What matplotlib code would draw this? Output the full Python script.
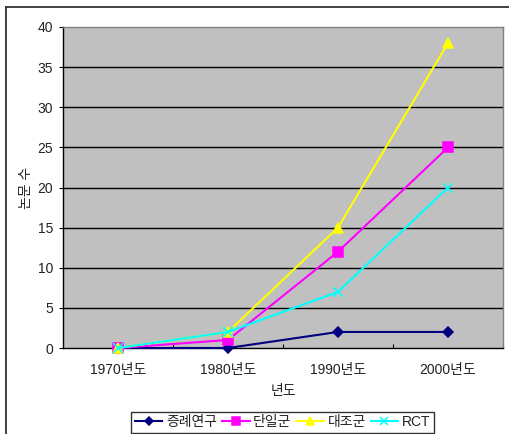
import matplotlib
matplotlib.use("Agg")
import matplotlib.pyplot as plt
from matplotlib.lines import Line2D

plt.rcParams['font.family'] = ['Liberation Sans', 'Noto Sans CJK KR']

categories = ['1970년도', '1980년도', '1990년도', '2000년도']
case_study = [0, 0, 2, 2]        # 증례연구
single_group = [0, 1, 12, 25]    # 단일군
control_group = [0, 2, 15, 38]   # 대조군
rct = [0, 2, 7, 20]              # RCT
y_ticks = [0, 5, 10, 15, 20, 25, 30, 35, 40]

FS = 10
TXT = '#222222'

fig = plt.figure(figsize=(5.09, 4.34), dpi=100)
fig.patch.set_facecolor('white')

ax = fig.add_axes([63/509, 1-348/434, 440/509, 321/434])
ax.set_facecolor('#C0C0C0')

x = list(range(len(categories)))
series = [
    (case_study, '증례연구', '#000080', 'D', 5.5),
    (single_group, '단일군', '#FF00FF', 's', 6.5),
    (control_group, '대조군', '#FFFF00', '^', 7),
    (rct, 'RCT', '#00FFFF', 'x', 6.5),
]
for vals, name, color, mk, ms in series:
    ax.plot(x, vals, color=color, lw=1.5, marker=mk, ms=ms,
            mec=color, mfc=color, mew=1.1, label=name, clip_on=False, zorder=3)

ax.set_xlim(-0.5, 3.5)
ax.set_ylim(0, 40)
ax.set_yticks(y_ticks)
for yv in y_ticks[1:-1]:
    ax.axhline(yv, color='black', lw=1.0, zorder=1)

# category boundaries carry inward ticks; labels sit at category centers
ax.set_xticks([0.5, 1.5, 2.5, 3.5])
ax.set_xticklabels([])
ax.set_xticks(x, minor=True)
ax.set_xticklabels(categories, minor=True)
ax.tick_params(axis='x', which='major', direction='in', length=3, color='black')
ax.tick_params(axis='x', which='minor', length=0, pad=11, labelsize=FS, labelcolor=TXT)
ax.tick_params(axis='y', direction='out', length=3, pad=4, labelsize=FS, labelcolor=TXT)

for side in ('top', 'right'):
    ax.spines[side].set_color('#808080')
    ax.spines[side].set_linewidth(1.0)
for side in ('left', 'bottom'):
    ax.spines[side].set_color('black')
    ax.spines[side].set_linewidth(1.0)

ax.set_xlabel('년도', fontsize=FS, color=TXT, labelpad=5)
ax.set_ylabel('논문 수', fontsize=FS, color=TXT, labelpad=3)

leg = fig.legend(loc='lower center', bbox_to_anchor=(0.555, 0.0), ncol=4,
                 fontsize=FS, frameon=True, fancybox=False, edgecolor='black',
                 handlelength=2.0, handletextpad=0.25, columnspacing=0.35,
                 borderpad=0.25, borderaxespad=0.1, markerscale=0.8)
leg.get_frame().set_linewidth(1.0)
for t in leg.get_texts():
    t.set_color(TXT)

# outer chart border
fig.add_artist(Line2D([6/509, 1.0], [1-7/434, 1-7/434], color='#333333', lw=1.3,
                      transform=fig.transFigure))
fig.add_artist(Line2D([6/509, 6/509], [0.0, 1-7/434], color='#333333', lw=1.3,
                      transform=fig.transFigure))

fig.savefig('out.png', dpi=100, facecolor='white')
